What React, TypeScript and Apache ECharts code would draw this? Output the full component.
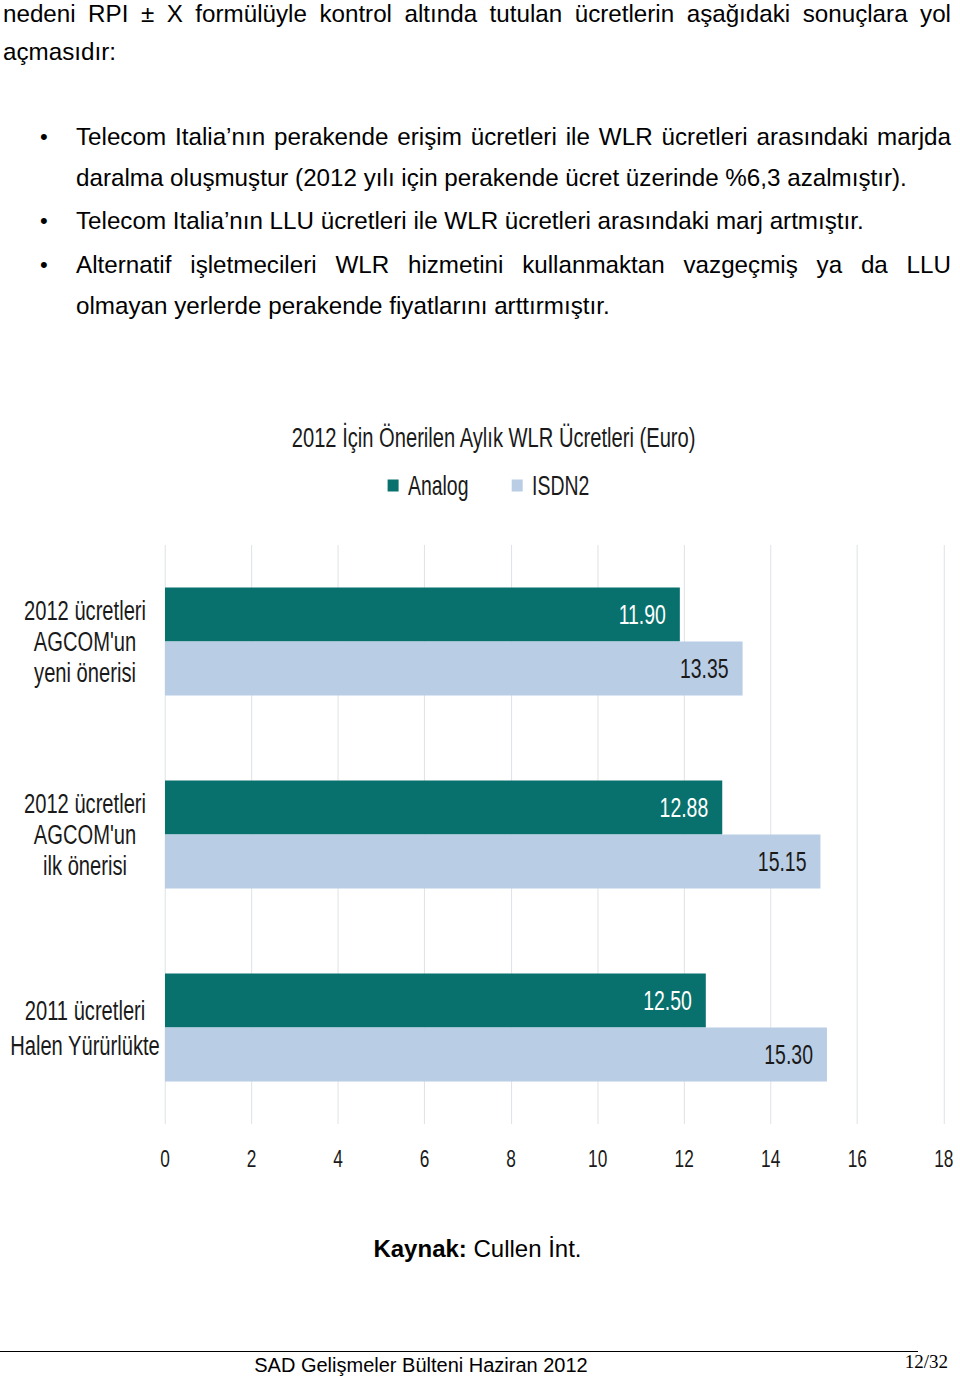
import React, { useEffect, useRef } from "react";
import * as echarts from "echarts";

const categories = [
  "2012 ücretleri\nAGCOM'un\nyeni önerisi",
  "2012 ücretleri\nAGCOM'un\nilk önerisi",
  "2011 ücretleri\nHalen Yürürlükte",
];
const seriesNames = ["Analog", "ISDN2"];
const analogValues = [11.9, 12.88, 12.5];
const isdn2Values = [13.35, 15.15, 15.3];
const axisMin = 0;
const axisMax = 18;
const axisStep = 2;

// The original chart image is horizontally condensed; reproduce by scaling the chart box.
const S = 0.72;
const px = (x: number) => x / S; // page x -> pre-scale chart x

const CHART_FONT = "'Liberation Sans', Arial, sans-serif";
const BODY = "'Liberation Sans', Arial, sans-serif";

function Chart() {
  const ref = useRef<HTMLDivElement>(null);
  useEffect(() => {
    if (!ref.current) return;
    const chart = echarts.init(ref.current, null, { renderer: "svg" });
    const labelFmt = (p: any) => Number(p.value).toFixed(2);
    const catLabelStyle = {
      fontFamily: CHART_FONT,
      fontSize: 28,
      lineHeight: 31,
      color: "#1a1a1a",
      align: "center",
    };
    chart.setOption({
      animation: false,
      title: {
        text: "2012 İçin Önerilen Aylık WLR Ücretleri (Euro)",
        left: px(490),
        textAlign: "center",
        top: 18,
        textStyle: { fontFamily: CHART_FONT, fontSize: 28, fontWeight: "normal", color: "#1a1a1a" },
      },
      legend: {
        data: seriesNames,
        top: 67,
        left: px(384),
        icon: "rect",
        itemWidth: px(11),
        itemHeight: 12,
        itemGap: 60,
        textStyle: { fontFamily: CHART_FONT, fontSize: 27, color: "#1a1a1a", padding: [0, 0, 0, 8] },
      },
      grid: {
        left: px(165),
        right: px(16),
        top: 145,
        bottom: 76,
        containLabel: false,
        outerBoundsMode: "none",
      },
      xAxis: {
        type: "value",
        min: axisMin,
        max: axisMax,
        interval: axisStep,
        axisLine: { show: false },
        axisTick: { show: false },
        splitLine: { show: true, lineStyle: { color: "#d9dde3", width: 1 } },
        axisLabel: { fontFamily: CHART_FONT, fontSize: 24, color: "#1a1a1a", margin: 22 },
      },
      yAxis: {
        type: "category",
        data: categories.map((c, i) =>
          i === categories.length - 1 ? { value: c, textStyle: { ...catLabelStyle, lineHeight: 35 } } : c
        ),
        inverse: true,
        axisLine: { show: false },
        axisTick: { show: false },
        axisLabel: {
          ...catLabelStyle,
          margin: px(165) - px(85),
        },
      },
      series: [
        {
          name: seriesNames[0],
          type: "bar",
          data: analogValues,
          barWidth: 54,
          barGap: "0%",
          itemStyle: { color: "#08716d" },
          label: {
            show: true,
            position: "insideRight",
            distance: px(14),
            formatter: labelFmt,
            color: "#ffffff",
            fontFamily: CHART_FONT,
            fontSize: 27,
          },
        },
        {
          name: seriesNames[1],
          type: "bar",
          data: isdn2Values,
          barWidth: 54,
          barGap: "0%",
          itemStyle: { color: "#b9cde5" },
          label: {
            show: true,
            position: "insideRight",
            distance: px(14),
            formatter: labelFmt,
            color: "#1a1a1a",
            fontFamily: CHART_FONT,
            fontSize: 27,
          },
        },
      ],
    });
    return () => chart.dispose();
  }, []);
  return (
    <div
      ref={ref}
      style={{
        position: "absolute",
        left: 0,
        top: 400,
        width: 960 / S,
        height: 800,
        transform: `scaleX(${S})`,
        transformOrigin: "0 0",
      }}
    />
  );
}

const lineStyle = (y: number, left: number, right: number | null, justify: boolean): React.CSSProperties => ({
  position: "absolute",
  top: Math.max(2, y - 12),
  left,
  width: right !== null ? right - left : undefined,
  height: 24,
  lineHeight: "24px",
  fontFamily: BODY,
  fontSize: 24.2,
  color: "#000",
  whiteSpace: "nowrap",
  textAlign: justify ? "justify" : "left",
  textAlignLast: justify ? "justify" : "left",
});

const bullet = (y: number) => (
  <div style={{ position: "absolute", left: 40, top: y - 12, lineHeight: "24px", fontSize: 22, fontFamily: BODY }}>•</div>
);

export default function App() {
  return (
    <div style={{ position: "absolute", left: 0, top: 0, width: 960, height: 1377, background: "#fff", overflow: "hidden" }}>
      <div style={lineStyle(11, 3, 951, true)}>nedeni RPI ± X formülüyle kontrol altında tutulan ücretlerin aşağıdaki sonuçlara yol</div>
      <div style={lineStyle(52, 3, null, false)}>açmasıdır:</div>
      {bullet(137)}
      <div style={lineStyle(137, 76, 951, true)}>Telecom Italia’nın perakende erişim ücretleri ile WLR ücretleri arasındaki marjda</div>
      <div style={lineStyle(178, 76, null, false)}>daralma oluşmuştur (2012 yılı için perakende ücret üzerinde %6,3 azalmıştır).</div>
      {bullet(221)}
      <div style={lineStyle(221, 76, null, false)}>Telecom Italia’nın LLU ücretleri ile WLR ücretleri arasındaki marj artmıştır.</div>
      {bullet(265)}
      <div style={lineStyle(265, 76, 951, true)}>Alternatif işletmecileri WLR hizmetini kullanmaktan vazgeçmiş ya da LLU</div>
      <div style={lineStyle(306, 76, null, false)}>olmayan yerlerde perakende fiyatlarını arttırmıştır.</div>
      <Chart />
      <div style={{ position: "absolute", left: 0, width: 955, top: 1237, lineHeight: "24px", textAlign: "center", fontFamily: BODY, fontSize: 24 }}>
        <b>Kaynak:</b> Cullen İnt.
      </div>
      <div style={{ position: "absolute", left: 0, top: 1351, width: 918, height: 1, background: "#000" }} />
      <div style={{ position: "absolute", left: 0, width: 842, top: 1353, lineHeight: "24px", textAlign: "center", fontFamily: BODY, fontSize: 20 }}>
        SAD Gelişmeler Bülteni Haziran 2012
      </div>
      <div style={{ position: "absolute", right: 12, top: 1351, lineHeight: "22px", fontFamily: "'Liberation Serif', 'DejaVu Serif', serif", fontSize: 19 }}>
        12/32
      </div>
    </div>
  );
}
